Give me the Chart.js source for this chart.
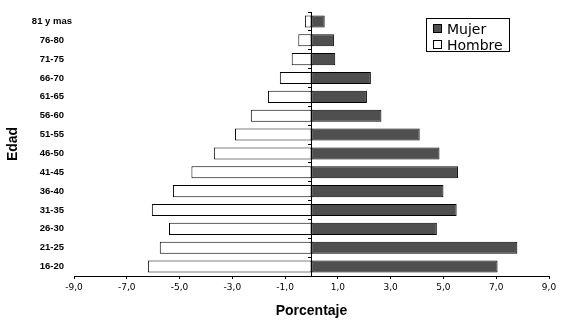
<!DOCTYPE html>
<html>
<head>
<meta charset="utf-8">
<script src="https://cdn.jsdelivr.net/npm/chart.js@4/dist/chart.umd.min.js"></script>
<style>
  body { margin: 0; background: #fff; }
  #wrap { position: relative; width: 567px; height: 328px; }
  #legend {
    position: absolute; left: 426px; top: 18px; width: 82px; height: 32px;
    border: 1px solid #000; background: #fff;
    font-family: "DejaVu Sans", sans-serif; font-size: 14px; color: #000;
  }
  #legend div { position: absolute; left: 6px; height: 16px; line-height: 16px; white-space: nowrap; }
  #legend span { display: inline-block; width: 7px; height: 7px; border: 1px solid #000; margin-right: 5px; vertical-align: 1px; }
</style>
</head>
<body>
<div id="wrap">
  <canvas id="pyramid"></canvas>
  <div id="legend">
    <div style="top:2px"><span style="background:#4f4f4f"></span>Mujer</div>
    <div style="top:18px"><span style="background:#fff"></span>Hombre</div>
  </div>
</div>
<script>
// Datos (de arriba hacia abajo)
const edades = ['81 y mas', '76-80', '71-75', '66-70', '61-65', '56-60', '51-55',
                '46-50', '41-45', '36-40', '31-35', '26-30', '21-25', '16-20'];
const mujer = [0.5, 0.85, 0.9, 2.25, 2.1, 2.65, 4.1, 4.85, 5.55, 5.0, 5.5, 4.75, 7.8, 7.05];
const hombre = [-0.25, -0.5, -0.75, -1.2, -1.65, -2.3, -2.9, -3.7, -4.55, -5.25, -6.05, -5.4, -5.75, -6.2];
const xTicks = [-9, -7, -5, -3, -1, 1, 3, 5, 7, 9];

const ctx = document.getElementById('pyramid').getContext('2d');
new Chart(ctx, {
    type: 'bar',
    data: {
        labels: edades,
        datasets: [
            {
                label: 'Mujer',
                data: mujer,
                backgroundColor: '#4f4f4f',
                borderColor: '#000',
                borderWidth: 1,
                borderSkipped: false,
                barPercentage: 0.64,
                categoryPercentage: 1
            },
            {
                label: 'Hombre',
                data: hombre,
                backgroundColor: '#fff',
                borderColor: '#000',
                borderWidth: 1,
                borderSkipped: false,
                barPercentage: 0.64,
                categoryPercentage: 1
            }
        ]
    },
    options: {
        indexAxis: 'y',
        responsive: true,
        maintainAspectRatio: false,
        animation: false,
        layout: { padding: { top: 12, right: 18, left: 1, bottom: 0 } },
        plugins: {
            legend: { display: false },
            tooltip: { enabled: false }
        },
        scales: {
            x: {
                type: 'linear',
                stacked: true,
                min: -9,
                max: 9,
                afterBuildTicks: (scale) => { scale.ticks = xTicks.map(v => ({ value: v })); },
                afterFit: (scale) => { scale.height = 52; },
                grid: { drawOnChartArea: false, tickLength: 3, color: '#000' },
                border: { color: '#000' },
                ticks: {
                    padding: 3,
                    color: '#000',
                    font: { family: 'DejaVu Sans', size: 9 },
                    maxRotation: 0,
                    callback: (v) => v.toFixed(1).replace('.', ',')
                },
                title: {
                    display: true,
                    text: 'Porcentaje',
                    color: '#000',
                    font: { family: 'Liberation Sans', size: 14, weight: 'bold' },
                    padding: { top: 4, bottom: 8 }
                }
            },
            y: {
                stacked: true,
                afterFit: (scale) => { scale.width = 73; },
                grid: { display: false, drawTicks: false },
                border: { display: false },
                ticks: {
                    crossAlign: 'center',
                    padding: 2,
                    color: '#000',
                    font: { family: 'Liberation Sans', size: 9.5, weight: 'bold' }
                },
                title: {
                    display: true,
                    text: 'Edad',
                    color: '#000',
                    font: { family: 'Liberation Sans', size: 14, weight: 'bold' },
                    padding: { top: 4, bottom: 4 }
                }
            },
            // eje vertical en el cero
            y2: {
                type: 'category',
                axis: 'y',
                labels: edades,
                position: { x: 0 },
                offset: true,
                ticks: { display: false },
                grid: { drawOnChartArea: false, offset: true, tickLength: 3, color: '#000' },
                border: { color: '#000' }
            }
        }
    }
});
</script>
</body>
</html>
